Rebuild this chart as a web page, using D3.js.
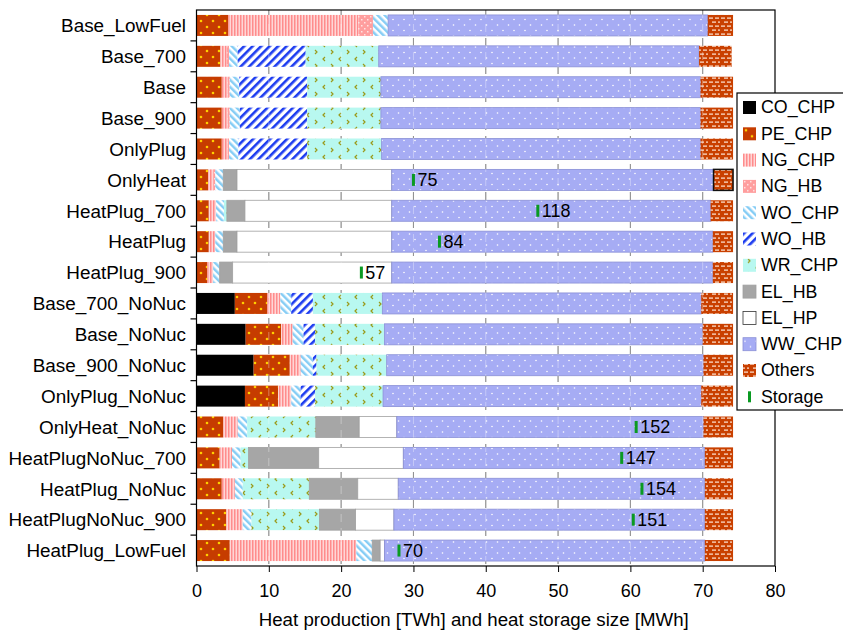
<!DOCTYPE html>
<html>
<head>
<meta charset="utf-8">
<script src="https://cdn.jsdelivr.net/npm/d3@7"></script>
<style>
  body { margin: 0; background: #fff; }
  text { font-family: "Liberation Sans", Arial, sans-serif; fill: #000; }
</style>
</head>
<body>
<div id="chart"></div>
<script>
var categories = ["Base_LowFuel", "Base_700", "Base", "Base_900", "OnlyPlug", "OnlyHeat",
  "HeatPlug_700", "HeatPlug", "HeatPlug_900", "Base_700_NoNuc", "Base_NoNuc", "Base_900_NoNuc",
  "OnlyPlug_NoNuc", "OnlyHeat_NoNuc", "HeatPlugNoNuc_700", "HeatPlug_NoNuc", "HeatPlugNoNuc_900",
  "HeatPlug_LowFuel"];

var seriesNames = ["CO_CHP", "PE_CHP", "NG_CHP", "NG_HB", "WO_CHP", "WO_HB", "WR_CHP", "EL_HB", "EL_HP", "WW_CHP", "Others"];

// heat production per technology [TWh], one value per category
var CO_CHP = [0, 0, 0, 0, 0, 0, 0, 0, 0, 5.3, 6.8, 7.9, 6.7, 0, 0, 0, 0, 0];
var PE_CHP = [4.4, 3.3, 3.5, 3.5, 3.5, 1.6, 1.7, 1.7, 1.5, 4.5, 4.9, 5.0, 4.6, 3.7, 3.2, 3.5, 4.1, 4.6];
var NG_CHP = [18.0, 0.9, 0.8, 0.8, 0.8, 0.7, 1.0, 0.9, 0.8, 1.8, 1.6, 1.5, 1.8, 2.0, 1.7, 1.8, 2.3, 17.5];
var NG_HB = [2.0, 0.3, 0.3, 0.3, 0.2, 0.3, 0, 0, 0, 0, 0, 0, 0, 0, 0, 0, 0, 0];
var WO_CHP = [2.1, 1.2, 1.3, 1.4, 1.3, 1.1, 1.1, 1.1, 0.9, 1.5, 1.5, 1.7, 1.3, 1.3, 1.2, 1.1, 1.2, 2.2];
var WO_HB = [0, 9.4, 9.4, 9.3, 9.5, 0, 0, 0, 0, 3.0, 1.6, 0.5, 2.0, 0, 0, 0, 0, 0];
var WR_CHP = [0, 10.1, 10.2, 10.2, 10.3, 0, 0.4, 0, 0, 9.6, 9.6, 9.7, 9.4, 9.5, 1.1, 9.2, 9.4, 0];
var EL_HB = [0, 0, 0, 0, 0, 1.9, 2.5, 1.9, 1.8, 0, 0, 0, 0, 6.0, 9.7, 6.7, 5.0, 1.1];
var EL_HP = [0, 0, 0, 0, 0, 21.4, 20.3, 21.4, 22.0, 0, 0, 0, 0, 5.2, 11.7, 5.6, 5.3, 0.6];
var WW_CHP = [44.2, 44.3, 44.2, 44.2, 44.1, 44.5, 44.1, 44.4, 44.4, 44.1, 44.0, 43.8, 44.0, 42.4, 41.7, 42.4, 43.0, 44.3];
var Others = [3.5, 4.5, 4.5, 4.5, 4.5, 2.7, 3.1, 2.8, 2.8, 4.4, 4.2, 4.1, 4.4, 4.1, 3.9, 3.9, 3.9, 3.9];

// heat storage size [MWh], null = no storage
var storage = [null, null, null, null, null, 75, 118, 84, 57, null, null, null, null, 152, 147, 154, 151, 70];
var storageScale = 2.5; // storage drawn at MWh / 2.5 on the TWh axis

var xTicks = [0, 10, 20, 30, 40, 50, 60, 70, 80];

var width = 843, height = 633;
var margin = {top: 10, right: 68, bottom: 67, left: 196.5};

var svg = d3.select("#chart").append("svg")
  .attr("width", width)
  .attr("height", height);

var defs = svg.append("defs");

// --- fill patterns ---
function pat(id, w, h) {
  return defs.append("pattern").attr("id", id)
    .attr("patternUnits", "userSpaceOnUse")
    .attr("width", w).attr("height", h);
}
var p;
p = pat("pPE", 12, 12);
p.append("rect").attr("width", 12).attr("height", 12).attr("fill", "#c63c00");
p.append("circle").attr("cx", 3).attr("cy", 3).attr("r", 1.3).attr("fill", "#ffd000");
p.append("circle").attr("cx", 9).attr("cy", 9).attr("r", 1.3).attr("fill", "#ffd000");

p = pat("pNGC", 3, 3);
p.append("rect").attr("width", 3).attr("height", 3).attr("fill", "#ffd6d6");
p.append("rect").attr("width", 1.5).attr("height", 3).attr("fill", "#ff8c8c");

p = pat("pNGH", 6, 6);
p.append("rect").attr("width", 6).attr("height", 6).attr("fill", "#ff9e9e");
p.append("rect").attr("x", 1).attr("y", 1).attr("width", 1.5).attr("height", 1.5).attr("fill", "#ffe4e4");
p.append("rect").attr("x", 4).attr("y", 4).attr("width", 1.5).attr("height", 1.5).attr("fill", "#ffe4e4");

p = pat("pWOC", 5, 5).attr("patternTransform", "rotate(-45)");
p.append("rect").attr("width", 5).attr("height", 5).attr("fill", "#ffffff");
p.append("rect").attr("width", 2.5).attr("height", 5).attr("fill", "#86cdf5");

p = pat("pWOH", 6, 6).attr("patternTransform", "rotate(45)");
p.append("rect").attr("width", 6).attr("height", 6).attr("fill", "#ffffff");
p.append("rect").attr("width", 2.6).attr("height", 6).attr("fill", "#1c3cf0");

p = pat("pWR", 16, 14);
p.append("rect").attr("width", 16).attr("height", 14).attr("fill", "#b8f8f0");
p.append("path").attr("d", "M5,1 L3,3 L5,5").attr("fill", "none").attr("stroke", "#9a9a1a").attr("stroke-width", 1.2);
p.append("path").attr("d", "M11,8 L13,10 L11,12").attr("fill", "none").attr("stroke", "#9a9a1a").attr("stroke-width", 1.2);

p = pat("pWW", 11, 11);
p.append("rect").attr("width", 11).attr("height", 11).attr("fill", "#a6acf4");
p.append("circle").attr("cx", 2.5).attr("cy", 3).attr("r", 0.8).attr("fill", "#ffffff");
p.append("circle").attr("cx", 8).attr("cy", 8.5).attr("r", 0.8).attr("fill", "#ffffff");

p = pat("pOT", 12, 8);
p.append("rect").attr("width", 12).attr("height", 8).attr("fill", "#c94000");
p.append("rect").attr("x", 1).attr("y", 1.5).attr("width", 4).attr("height", 1.2).attr("fill", "#ffe8d8");
p.append("rect").attr("x", 7).attr("y", 1.5).attr("width", 4).attr("height", 1.2).attr("fill", "#ffe8d8");
p.append("rect").attr("x", 4).attr("y", 5.5).attr("width", 4).attr("height", 1.2).attr("fill", "#ffe8d8");
p.append("rect").attr("x", 10).attr("y", 5.5).attr("width", 2).attr("height", 1.2).attr("fill", "#ffe8d8");

var fills = {
  CO_CHP: "#000000", PE_CHP: "url(#pPE)", NG_CHP: "url(#pNGC)", NG_HB: "url(#pNGH)",
  WO_CHP: "url(#pWOC)", WO_HB: "url(#pWOH)", WR_CHP: "url(#pWR)", EL_HB: "#a6a6a6",
  EL_HP: "#ffffff", WW_CHP: "url(#pWW)", Others: "url(#pOT)"
};
var strokes = {
  EL_HP: "#a0a0a0", WW_CHP: "#8a90d6", EL_HB: "#a0a0a0"
};

// --- data table built from the arrays ---
var seriesArrays = {CO_CHP: CO_CHP, PE_CHP: PE_CHP, NG_CHP: NG_CHP, NG_HB: NG_HB, WO_CHP: WO_CHP,
  WO_HB: WO_HB, WR_CHP: WR_CHP, EL_HB: EL_HB, EL_HP: EL_HP, WW_CHP: WW_CHP, Others: Others};
var table = categories.map(function(c, i) {
  var row = {cat: c};
  seriesNames.forEach(function(s) { row[s] = seriesArrays[s][i]; });
  return row;
});
var stacked = d3.stack().keys(seriesNames)(table);

var x = d3.scaleLinear().domain([0, 80]).range([margin.left, width - margin.right]);
var y = d3.scaleBand().domain(categories)
  .range([margin.top, height - margin.bottom])
  .paddingInner(0.32).paddingOuter(0.16);

var x0 = x(0), x1 = x(80), y0 = margin.top, y1 = height - margin.bottom;

// gridlines under the bars
svg.append("g").selectAll("line").data(xTicks.slice(1, -1)).enter().append("line")
  .attr("x1", function(d) { return x(d); }).attr("x2", function(d) { return x(d); })
  .attr("y1", y0).attr("y2", y1)
  .attr("stroke", "#555").attr("stroke-width", 1).attr("stroke-dasharray", "8,6");

// bars
var layers = svg.append("g").selectAll("g").data(stacked).enter().append("g");
layers.selectAll("rect").data(function(d) { return d.map(function(v) { v.key = d.key; return v; }); })
  .enter().filter(function(d) { return d[1] - d[0] > 0; })
  .append("rect")
  .attr("x", function(d) { return x(d[0]); })
  .attr("y", function(d) { return y(d.data.cat); })
  .attr("width", function(d) { return x(d[1]) - x(d[0]); })
  .attr("height", y.bandwidth())
  .attr("fill", function(d) { return fills[d.key]; })
  .attr("stroke", function(d) {
    if (d.key === "Others" && d.data.cat === "OnlyHeat") return "#111";
    return strokes[d.key] || "none";
  })
  .attr("stroke-width", function(d) {
    return (d.key === "Others" && d.data.cat === "OnlyHeat") ? 1.5 : 0.8;
  });

// faint gridlines over bars
svg.append("g").selectAll("line").data(xTicks.slice(1, -1)).enter().append("line")
  .attr("x1", function(d) { return x(d); }).attr("x2", function(d) { return x(d); })
  .attr("y1", y0).attr("y2", y1)
  .attr("stroke", "#fff").attr("stroke-opacity", 0.35).attr("stroke-width", 1).attr("stroke-dasharray", "8,6");

// storage markers
var stor = categories.map(function(c, i) { return {cat: c, v: storage[i]}; })
  .filter(function(d) { return d.v !== null; });
var sg = svg.append("g").selectAll("g").data(stor).enter().append("g");
sg.append("rect")
  .attr("x", function(d) { return x(d.v / storageScale) - 1.5; })
  .attr("y", function(d) { return y(d.cat) + y.bandwidth() / 2 - 6; })
  .attr("width", 3).attr("height", 12)
  .attr("fill", "#0a9a22");
sg.append("text")
  .attr("x", function(d) { return x(d.v / storageScale) + 4; })
  .attr("y", function(d) { return y(d.cat) + y.bandwidth() / 2; })
  .attr("dy", "0.36em")
  .attr("font-size", "18px")
  .text(function(d) { return d.v; });

// frame
svg.append("rect").attr("x", x0).attr("y", y0).attr("width", x1 - x0).attr("height", y1 - y0)
  .attr("fill", "none").attr("stroke", "#000").attr("stroke-width", 1.2);

// x axis
var xAxis = svg.append("g").attr("transform", "translate(0," + y1 + ")")
  .call(d3.axisBottom(x).tickValues(xTicks).tickSize(6).tickSizeOuter(0).tickPadding(12));
xAxis.select(".domain").remove();
xAxis.selectAll("text").attr("font-size", "18px").attr("font-family", "Liberation Sans, Arial, sans-serif");

svg.append("text")
  .attr("x", (x0 + x1) / 2 - 12).attr("y", 626)
  .attr("text-anchor", "middle")
  .attr("font-size", "18.7px")
  .text("Heat production [TWh] and heat storage size [MWh]");

// y axis labels and ticks between bars
var step = y.step();
var bounds = categories.slice(1).map(function(c) { return y(c) - (step - y.bandwidth()) / 2; });
svg.append("g").selectAll("line").data(bounds).enter().append("line")
  .attr("x1", x0 - 6).attr("x2", x0)
  .attr("y1", function(d) { return d; }).attr("y2", function(d) { return d; })
  .attr("stroke", "#000").attr("stroke-width", 1.2);

svg.append("g").selectAll("text").data(categories).enter().append("text")
  .attr("x", 186)
  .attr("y", function(d) { return y(d) + y.bandwidth() / 2; })
  .attr("dy", "0.36em")
  .attr("text-anchor", "end")
  .attr("font-size", "18.9px")
  .text(function(d) { return d; });

// legend
var legendItems = seriesNames.concat(["Storage"]);
var legend = svg.append("g").attr("transform", "translate(737,93)");
legend.append("rect").attr("width", 110).attr("height", 317)
  .attr("fill", "#fff").attr("stroke", "#000").attr("stroke-width", 1.2);
var li = legend.selectAll("g.item").data(legendItems).enter().append("g")
  .attr("class", "item")
  .attr("transform", function(d, i) { return "translate(0," + (14 + i * 26.3) + ")"; });
li.each(function(d) {
  var g = d3.select(this);
  if (d === "Storage") {
    g.append("rect").attr("x", 11).attr("y", -5).attr("width", 3).attr("height", 11).attr("fill", "#0a9a22");
  } else {
    g.append("rect").attr("x", 6).attr("y", -6).attr("width", 13).attr("height", 13)
      .attr("fill", fills[d])
      .attr("stroke", d === "EL_HP" ? "#333" : (strokes[d] || "none"))
      .attr("stroke-width", 0.8);
  }
});
li.append("text").attr("x", 24).attr("dy", "0.36em").attr("font-size", "17.8px")
  .text(function(d) { return d; });
</script>
</body>
</html>
